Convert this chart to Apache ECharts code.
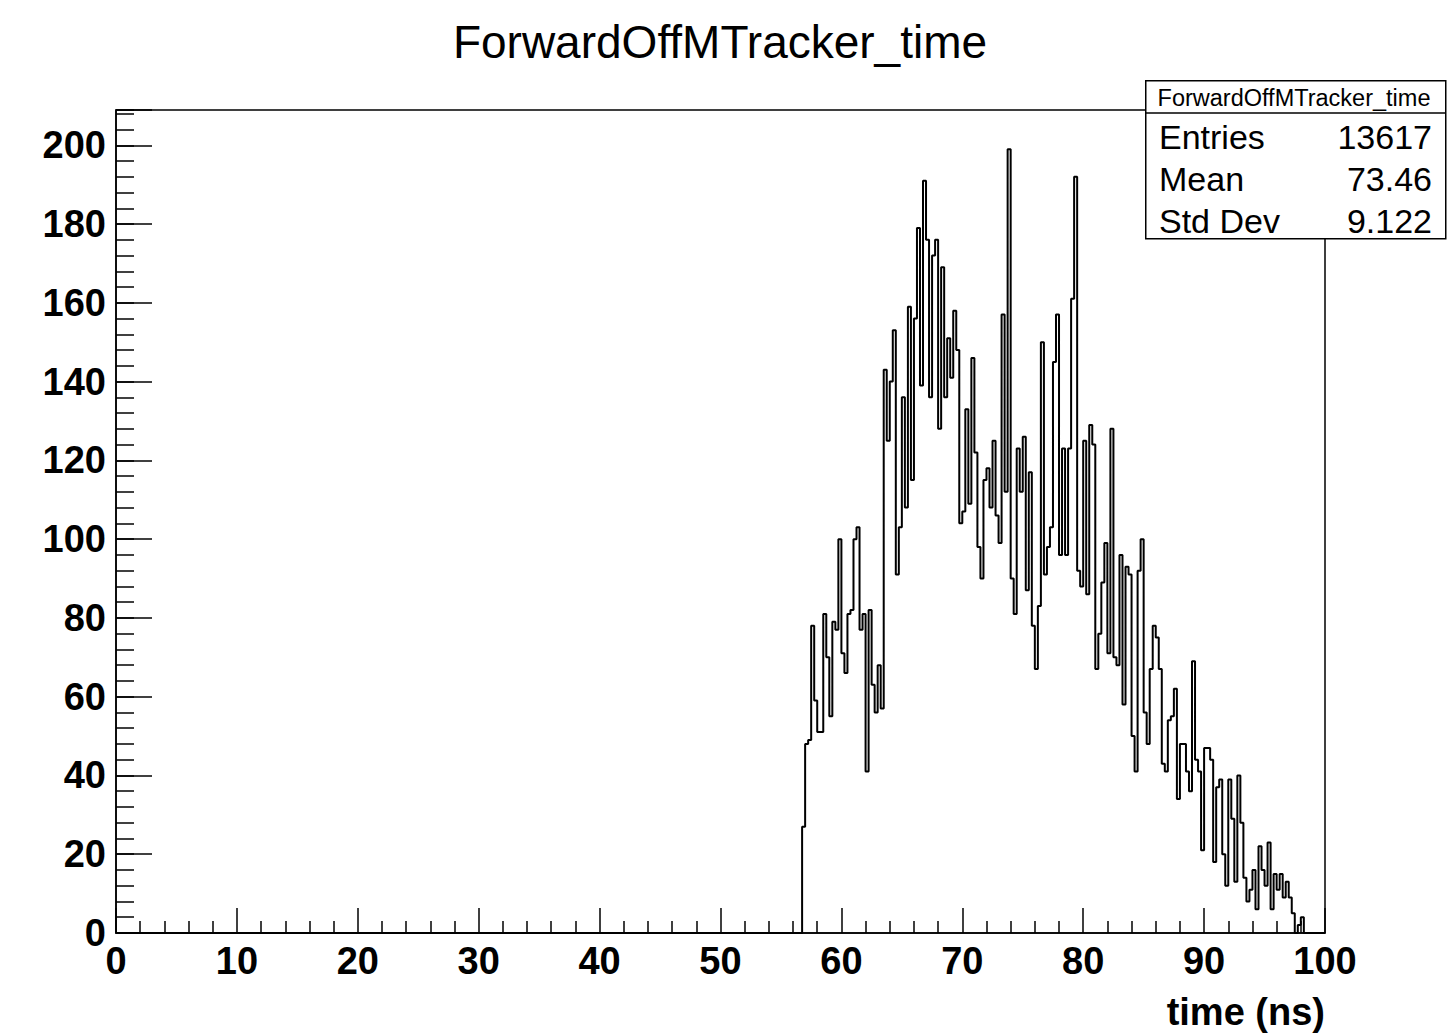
<!DOCTYPE html>
<html>
<head>
<meta charset="utf-8">
<script src="https://cdn.jsdelivr.net/npm/echarts@6/dist/echarts.min.js"></script>
<style>
  html, body { margin: 0; padding: 0; background: #fff; }
  #chart { width: 1450px; height: 1036px; }
</style>
</head>
<body>
<div id="chart"></div>
<script>
// histogram content
const histName = 'ForwardOffMTracker_time';
const xTitle = 'time (ns)';
const nBins = 400;
const xMin = 0;
const xMax = 100;
const yMax = 208.95;          // ROOT: 1.05 * max bin
const firstFilledBin = 227;   // bin low edge 56.75 ns
const counts = [
  27, 48, 49, 78, 59, 51, 51, 81, 70, 55, 79, 77, 100, 71, 66, 81,   // 56.75 - 60.5
  82, 100, 103, 77, 81, 41, 82, 63, 56, 68, 57, 143, 125, 140, 153, 91, // 60.75 - 64.5
  103, 136, 108, 159, 115, 156, 179, 139, 191, 176, 136, 172, 176, 128, 169, 136, // 64.75 - 68.5
  151, 141, 158, 148, 104, 107, 133, 109, 146, 122, 98, 90, 115, 118, 108, 125, // 68.75 - 72.5
  106, 99, 157, 112, 199, 90, 81, 123, 112, 126, 87, 117, 78, 67, 83, 150,       // 72.75 - 76.5
  91, 98, 103, 145, 157, 96, 123, 96, 123, 161, 192, 92, 88, 125, 86, 129,       // 76.75 - 80.5
  124, 67, 76, 89, 99, 71, 128, 70, 68, 96, 58, 93, 91, 50, 41, 92,              // 80.75 - 84.5
  100, 56, 48, 67, 78, 75, 67, 43, 41, 54, 55, 62, 34, 48, 48, 41,               // 84.75 - 88.5
  36, 69, 44, 41, 21, 47, 47, 44, 18, 37, 39, 20, 12, 39, 29, 13,                // 88.75 - 92.5
  40, 28, 14, 8, 11, 16, 6, 22, 16, 12, 23, 6, 15, 11, 15, 9,                    // 92.75 - 96.5
  13, 9, 5, 0, 2, 4, 0                                                           // 96.75 - 98.25
];
const xLabelStep = 10;
const xMinorStep = 2;
const yLabelStep = 20;
const yMinorStep = 4;
const statNames = ['Entries', 'Mean', 'Std Dev'];
const statValues = ['13617', '73.46', '9.122'];

const FONT = '"Liberation Sans", Arial, Helvetica, sans-serif';
const binWidth = (xMax - xMin) / nBins;

// one point per bin low edge, plus the closing edge
let histData = [];
for (let i = 0; i < nBins; i++) {
  let k = i - firstFilledBin;
  let v = (k >= 0 && k < counts.length) ? counts[k] : 0;
  histData.push([xMin + i * binWidth, v]);
}
histData.push([xMax, 0]);

// stats box + titles
const boxL = 1145, boxT = 80, boxW = 300, boxH = 158, headH = 33, rowH = 42;
let statGraphics = [
  { type: 'text', z: 50, x: 720, y: 42,
    style: { text: histName, font: '46px ' + FONT, fill: '#000', textAlign: 'center', textVerticalAlign: 'middle' } },
  { type: 'rect', left: boxL, top: boxT, z: 100,
    shape: { width: boxW, height: boxH },
    style: { fill: '#fff', stroke: '#000', lineWidth: 1.5 } },
  { type: 'line', z: 101,
    shape: { x1: boxL, y1: boxT + headH, x2: boxL + boxW, y2: boxT + headH },
    style: { stroke: '#000', lineWidth: 1.5 } },
  { type: 'text', z: 101, x: boxL + boxW / 2 - 1, y: boxT + headH / 2 + 1,
    style: { text: histName, font: '23.5px ' + FONT, fill: '#000', textAlign: 'center', textVerticalAlign: 'middle' } }
];
for (let r = 0; r < statNames.length; r++) {
  let cy = boxT + headH + 24 + r * rowH;
  statGraphics.push({ type: 'text', z: 101, x: boxL + 14, y: cy,
    style: { text: statNames[r], font: '34px ' + FONT, fill: '#000', textAlign: 'left', textVerticalAlign: 'middle' } });
  statGraphics.push({ type: 'text', z: 101, x: boxL + boxW - 13, y: cy,
    style: { text: statValues[r], font: '34px ' + FONT, fill: '#000', textAlign: 'right', textVerticalAlign: 'middle' } });
}
statGraphics.push({ type: 'text', z: 50, x: 1325, y: 1012,
  style: { text: xTitle, font: 'bold 38px ' + FONT, fill: '#000', textAlign: 'right', textVerticalAlign: 'middle' } });

let myChart = echarts.init(document.getElementById('chart'), null, { renderer: 'svg' });

let option = {
  animation: false,
  backgroundColor: '#fff',
  grid: {
    left: 116, right: 125, top: 110, bottom: 103,
    show: true, borderColor: '#000', borderWidth: 1.5,
    containLabel: false, outerBoundsMode: 'none'
  },
  xAxis: {
    type: 'value', min: xMin, max: xMax, interval: xLabelStep,
    axisLine: { show: true, lineStyle: { color: '#000', width: 1.5 } },
    axisTick: { show: true, inside: true, length: 25, lineStyle: { color: '#000', width: 1.5 } },
    minorTick: { show: true, splitNumber: xLabelStep / xMinorStep, length: 12, lineStyle: { color: '#000', width: 1.5 } },
    splitLine: { show: false },
    axisLabel: { margin: 9, color: '#000', fontFamily: FONT, fontSize: 38, fontWeight: 'bold' }
  },
  yAxis: [
    {
      type: 'value', min: 0, max: yMax, interval: yLabelStep,
      axisLine: { show: true, lineStyle: { color: '#000', width: 1.5 } },
      axisTick: { show: true, inside: true, length: 36, lineStyle: { color: '#000', width: 1.5 } },
      splitLine: { show: false },
      axisLabel: {
        margin: 10, color: '#000', fontFamily: FONT, fontSize: 38, fontWeight: 'bold',
        formatter: function (v) { return (Math.abs(v % yLabelStep) < 1e-6) ? String(v) : ''; }
      }
    },
    {
      type: 'value', min: 0, max: yMax, interval: yMinorStep, position: 'left',
      axisLine: { show: false },
      axisTick: { show: true, inside: true, length: 18, lineStyle: { color: '#000', width: 1.5 } },
      splitLine: { show: false },
      axisLabel: { show: false }
    }
  ],
  graphic: statGraphics,
  series: [
    {
      name: histName,
      type: 'line',
      step: 'end',
      xAxisIndex: 0,
      yAxisIndex: 0,
      symbol: 'none',
      data: histData,
      lineStyle: { color: '#000', width: 2 },
      z: 5
    }
  ]
};

myChart.setOption(option);
</script>
</body>
</html>
